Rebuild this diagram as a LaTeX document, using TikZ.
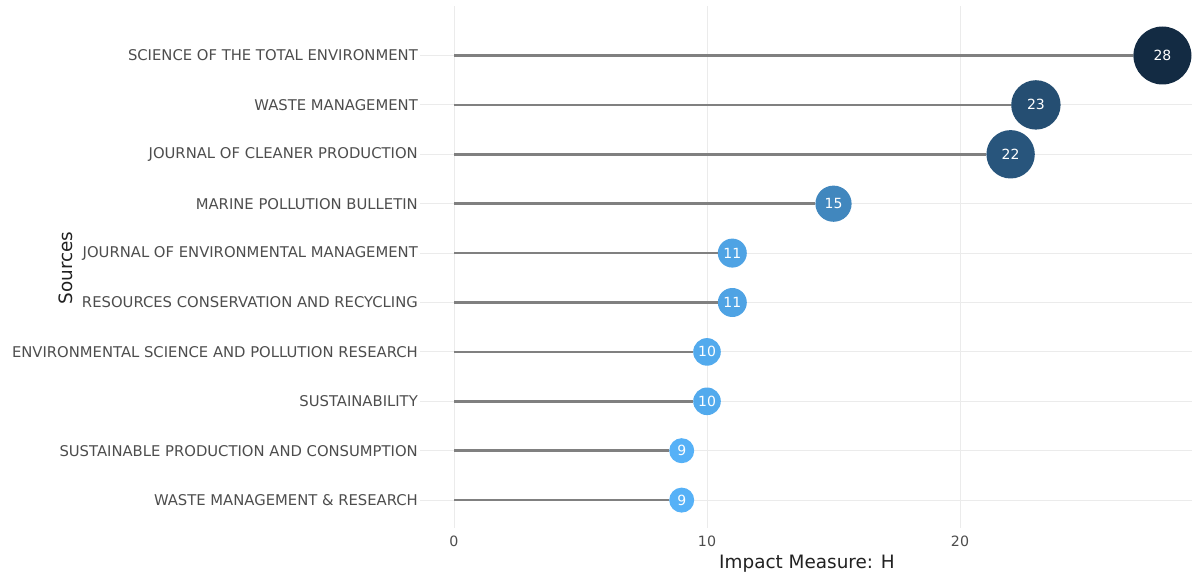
\documentclass[tikz,border=0pt]{standalone}
\usepackage{fontspec}
\setmainfont{DejaVu Sans}
\usepackage{xcolor}
\usepackage{tikz}
\definecolor{cA}{HTML}{132B43}
\definecolor{cB}{HTML}{254E72}
\definecolor{cC}{HTML}{28557C}
\definecolor{cD}{HTML}{4187BE}
\definecolor{cE}{HTML}{4FA3E4}
\definecolor{cF}{HTML}{52AAED}
\definecolor{cG}{HTML}{56B1F7}
\definecolor{axisgray}{HTML}{4D4D4D}
\tikzset{grid/.style={draw=black!8, line width=1pt},
  stem/.style={draw=black!50, line width=2.5pt},
  src/.style={anchor=east, inner sep=0pt, text=axisgray, font=\fontsize{14.8}{16}\selectfont},
  tick/.style={inner sep=0pt, text=axisgray, font=\fontsize{14.2}{16}\selectfont},
  dot/.style={circle, inner sep=0pt, text=white, font=\fontsize{14}{15}\selectfont},
  axtitle/.style={text=black!87, font=\fontsize{18.4}{20}\selectfont}}

\begin{document}
\begin{tikzpicture}[x=1pt, y=-1pt]
    \useasboundingbox (0,0) rectangle (1192,575);
    % grid
    \draw[grid] (454,6) -- (454,528);
    \draw[grid] (707,6) -- (707,528);
    \draw[grid] (960,6) -- (960,528);
    \draw[grid] (420,55.5) -- (1192,55.5);
    \draw[grid] (420,104.9) -- (1192,104.9);
    \draw[grid] (420,154.3) -- (1192,154.3);
    \draw[grid] (420,203.7) -- (1192,203.7);
    \draw[grid] (420,253.1) -- (1192,253.1);
    \draw[grid] (420,302.5) -- (1192,302.5);
    \draw[grid] (420,351.9) -- (1192,351.9);
    \draw[grid] (420,401.3) -- (1192,401.3);
    \draw[grid] (420,450.7) -- (1192,450.7);
    \draw[grid] (420,500.1) -- (1192,500.1);

    \node[src] (s1) at (418,55.5) {SCIENCE OF THE TOTAL ENVIRONMENT};
    \node[src] (s2) at (418,104.9) {WASTE MANAGEMENT};
    \node[src] (s3) at (418,154.3) {JOURNAL OF CLEANER PRODUCTION};
    \node[src] (s4) at (418,203.7) {MARINE POLLUTION BULLETIN};
    \node[src] (s5) at (418,253.1) {JOURNAL OF ENVIRONMENTAL MANAGEMENT};
    \node[src] (s6) at (418,302.5) {RESOURCES CONSERVATION AND RECYCLING};
    \node[src] (s7) at (418,351.9) {ENVIRONMENTAL SCIENCE AND POLLUTION RESEARCH};
    \node[src] (s8) at (418,401.3) {SUSTAINABILITY};
    \node[src] (s9) at (418,450.7) {SUSTAINABLE PRODUCTION AND CONSUMPTION};
    \node[src] (s10) at (418,500.1) {WASTE MANAGEMENT \& RESEARCH};

    \coordinate (z1) at (454,55.5);
    \coordinate (z2) at (454,104.9);
    \coordinate (z3) at (454,154.3);
    \coordinate (z4) at (454,203.7);
    \coordinate (z5) at (454,253.1);
    \coordinate (z6) at (454,302.5);
    \coordinate (z7) at (454,351.9);
    \coordinate (z8) at (454,401.3);
    \coordinate (z9) at (454,450.7);
    \coordinate (z10) at (454,500.1);

    \node[dot, fill=cA, minimum size=58pt] (h1) at (1162.4,55.5) {28};
    \node[dot, fill=cB, minimum size=49.4pt] (h2) at (1035.9,104.9) {23};
    \node[dot, fill=cC, minimum size=48.4pt] (h3) at (1010.6,154.3) {22};
    \node[dot, fill=cD, minimum size=36.2pt] (h4) at (833.5,203.7) {15};
    \node[dot, fill=cE, minimum size=29pt] (h5) at (732.3,253.1) {11};
    \node[dot, fill=cE, minimum size=29pt] (h6) at (732.3,302.5) {11};
    \node[dot, fill=cF, minimum size=27.6pt] (h7) at (707,351.9) {10};
    \node[dot, fill=cF, minimum size=27.6pt] (h8) at (707,401.3) {10};
    \node[dot, fill=cG, minimum size=25pt] (h9) at (681.7,450.7) {9};
    \node[dot, fill=cG, minimum size=25pt] (h10) at (681.7,500.1) {9};

    \draw[stem] (z1) -- (h1);
    \draw[stem] (z2) -- (h2);
    \draw[stem] (z3) -- (h3);
    \draw[stem] (z4) -- (h4);
    \draw[stem] (z5) -- (h5);
    \draw[stem] (z6) -- (h6);
    \draw[stem] (z7) -- (h7);
    \draw[stem] (z8) -- (h8);
    \draw[stem] (z9) -- (h9);
    \draw[stem] (z10) -- (h10);

    \node[tick] (t0) at (454,541) {0};
    \node[tick] (t10) at (707,541) {10};
    \node[tick] (t20) at (960,541) {20};

    \node[axtitle] (xt) at (807,564) {Impact Measure: H};
    \node[axtitle, rotate=90] (yt) at (66,268) {Sources};
  \end{tikzpicture}
\end{document}
